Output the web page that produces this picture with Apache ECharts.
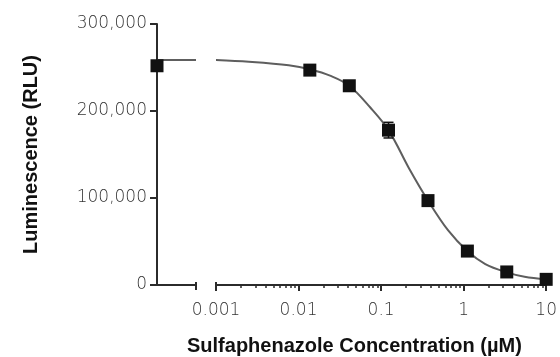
<!DOCTYPE html>
<html>
<head>
<meta charset="utf-8">
<script src="https://cdn.jsdelivr.net/npm/echarts@6/dist/echarts.min.js"></script>
<style>
html,body{margin:0;padding:0;background:#fff;}
#chart{width:560px;height:357px;}
</style>
</head>
<body>
<div id="chart"></div>
<script>
// ---- data ----
const zeroConcLuminescence = 252000;            // point plotted at 0 µM (left axis segment)
const plateauLevel = 258500;                    // fitted curve level on the left segment
const concentrations = [0.0137, 0.0412, 0.123, 0.370, 1.11, 3.33, 10];   // µM
const luminescence  = [247000, 229000, 178000, 97000, 39000, 15000, 6500]; // RLU
const errorBars     = [0, 0, 9000, 0, 0, 0, 0];
const fitConcentrations = [0.001, 0.0025, 0.0076, 0.0137, 0.025, 0.0412, 0.074, 0.123, 0.221, 0.370, 0.646, 1.11, 1.83, 3.33, 5.47, 10];
const fitLuminescence   = [258500, 256500, 252500, 248000, 240000, 229000, 204000, 178000, 133000, 97000, 63000, 39000, 24000, 14500, 9500, 6500];
const yTickValues = [0, 100000, 200000, 300000];
const xMajorTicks = [0.001, 0.01, 0.1, 1, 10];
const xMajorLabels = ['0.001', '0.01', '0.1', '1', '10'];
const xMinorTicks = [0.002,0.003,0.004,0.005,0.006,0.007,0.008,0.009,
                     0.02,0.03,0.04,0.05,0.06,0.07,0.08,0.09,
                     0.2,0.3,0.4,0.5,0.6,0.7,0.8,0.9,
                     2,3,4,5,6,7,8,9];
const xTitle = 'Sulfaphenazole Concentration (µM)';
const yTitle = 'Luminescence (RLU)';

// ---- build options ----
const lg = v => Math.log10(v);
const labelMap = {};
xMajorTicks.forEach((t, i) => { labelMap[Math.round(lg(t))] = xMajorLabels[i]; });

const axisColor = '#2b2b2b';
const textColor = '#333333';
const tickFont = { fontFamily: 'DejaVu Sans', fontSize: 17, fontWeight: 200, color: textColor };
const gridTop = 24, gridBottom = 72;

const chart = echarts.init(document.getElementById('chart'), null, { renderer: 'canvas' });

const option = {
  animation: false,
  backgroundColor: '#ffffff',
  title: {
    text: xTitle,
    left: 182,
    top: 331,
    textStyle: { fontFamily: 'Liberation Sans', fontWeight: 'bold', fontSize: 20, color: '#111', lineHeight: 20 }
  },
  grid: [
    { left: 157, right: 560 - 196, top: gridTop, bottom: gridBottom },
    { left: 216, right: 560 - 552, top: gridTop, bottom: gridBottom }
  ],
  xAxis: [
    { // left segment (0 µM)
      gridIndex: 0, type: 'value', min: 0, max: 1,
      axisLine: { show: true, lineStyle: { color: axisColor, width: 2 } },
      axisTick: { show: true, customValues: [1], length: 5, lineStyle: { color: axisColor, width: 2 } },
      axisLabel: { show: false }, splitLine: { show: false }
    },
    { // left segment break cap (upward part)
      gridIndex: 0, type: 'value', min: 0, max: 1, position: 'bottom',
      axisLine: { show: false },
      axisTick: { show: true, inside: true, customValues: [1], length: 3, lineStyle: { color: axisColor, width: 2 } },
      axisLabel: { show: false }, splitLine: { show: false }
    },
    { // log concentration axis (log10 units), major ticks + labels
      gridIndex: 1, type: 'value', min: -3, max: 1,
      axisLine: { show: true, lineStyle: { color: axisColor, width: 2 } },
      axisTick: { show: true, customValues: xMajorTicks.map(lg), length: 6, lineStyle: { color: axisColor, width: 2 } },
      axisLabel: Object.assign({
        show: true, customValues: xMajorTicks.map(lg), margin: 17,
        formatter: v => labelMap[Math.round(v)] || ''
      }, tickFont),
      splitLine: { show: false }
    },
    { // minor ticks
      gridIndex: 1, type: 'value', min: -3, max: 1, position: 'bottom',
      axisLine: { show: false },
      axisTick: { show: true, customValues: xMinorTicks.map(lg), length: 3, lineStyle: { color: axisColor, width: 1.5 } },
      axisLabel: { show: false }, splitLine: { show: false }
    },
    { // break cap (upward part) at 0.001
      gridIndex: 1, type: 'value', min: -3, max: 1, position: 'bottom',
      axisLine: { show: false },
      axisTick: { show: true, inside: true, customValues: [-3], length: 3, lineStyle: { color: axisColor, width: 2 } },
      axisLabel: { show: false }, splitLine: { show: false }
    }
  ],
  yAxis: [
    {
      gridIndex: 0, type: 'value', min: 0, max: 300000, interval: 100000,
      axisLine: { show: true, lineStyle: { color: axisColor, width: 2 } },
      axisTick: { show: true, length: 7, lineStyle: { color: axisColor, width: 2 } },
      axisLabel: Object.assign({
        margin: 10,
        customValues: yTickValues,
        formatter: v => String(v).replace(/\B(?=(\d{3})+(?!\d))/g, ',')
      }, tickFont),
      splitLine: { show: false },
      name: yTitle, nameLocation: 'middle', nameGap: 116, nameRotate: 90,
      nameTextStyle: { fontFamily: 'Liberation Sans', fontWeight: 'bold', fontSize: 20, color: '#111' }
    },
    {
      gridIndex: 1, type: 'value', min: 0, max: 300000, interval: 100000,
      show: false
    }
  ],
  series: [
    {
      type: 'line', xAxisIndex: 0, yAxisIndex: 0,
      data: [[0, plateauLevel], [1, plateauLevel]],
      symbol: 'none', lineStyle: { color: '#5e5e5e', width: 2 }, clip: false, z: 2
    },
    {
      type: 'scatter', xAxisIndex: 0, yAxisIndex: 0,
      data: [[0, zeroConcLuminescence]],
      symbol: 'rect', symbolSize: 13, itemStyle: { color: '#111111', opacity: 1 }, clip: false, z: 4
    },
    {
      type: 'line', xAxisIndex: 2, yAxisIndex: 1,
      data: fitConcentrations.map((c, i) => [lg(c), fitLuminescence[i]]),
      symbol: 'none', smooth: 0.35, lineStyle: { color: '#5e5e5e', width: 2 }, clip: false, z: 2
    },
    {
      type: 'custom', xAxisIndex: 2, yAxisIndex: 1, z: 3, clip: false,
      data: concentrations.map((c, i) => [lg(c), luminescence[i] - errorBars[i], luminescence[i] + errorBars[i]])
                          .filter((d, i) => errorBars[i] > 0),
      renderItem: (params, api) => {
        const x = api.value(0), lo = api.value(1), hi = api.value(2);
        const pLo = api.coord([x, lo]), pHi = api.coord([x, hi]);
        const w = 5;
        const st = { stroke: '#111111', lineWidth: 1.5 };
        return { type: 'group', children: [
          { type: 'line', shape: { x1: pHi[0], y1: pHi[1], x2: pLo[0], y2: pLo[1] }, style: st },
          { type: 'line', shape: { x1: pHi[0] - w, y1: pHi[1], x2: pHi[0] + w, y2: pHi[1] }, style: st },
          { type: 'line', shape: { x1: pLo[0] - w, y1: pLo[1], x2: pLo[0] + w, y2: pLo[1] }, style: st }
        ]};
      }
    },
    {
      type: 'scatter', xAxisIndex: 2, yAxisIndex: 1,
      data: concentrations.map((c, i) => [lg(c), luminescence[i]]),
      symbol: 'rect', symbolSize: 13, itemStyle: { color: '#111111', opacity: 1 }, clip: false, z: 4
    }
  ]
};
chart.setOption(option);
</script>
</body>
</html>
